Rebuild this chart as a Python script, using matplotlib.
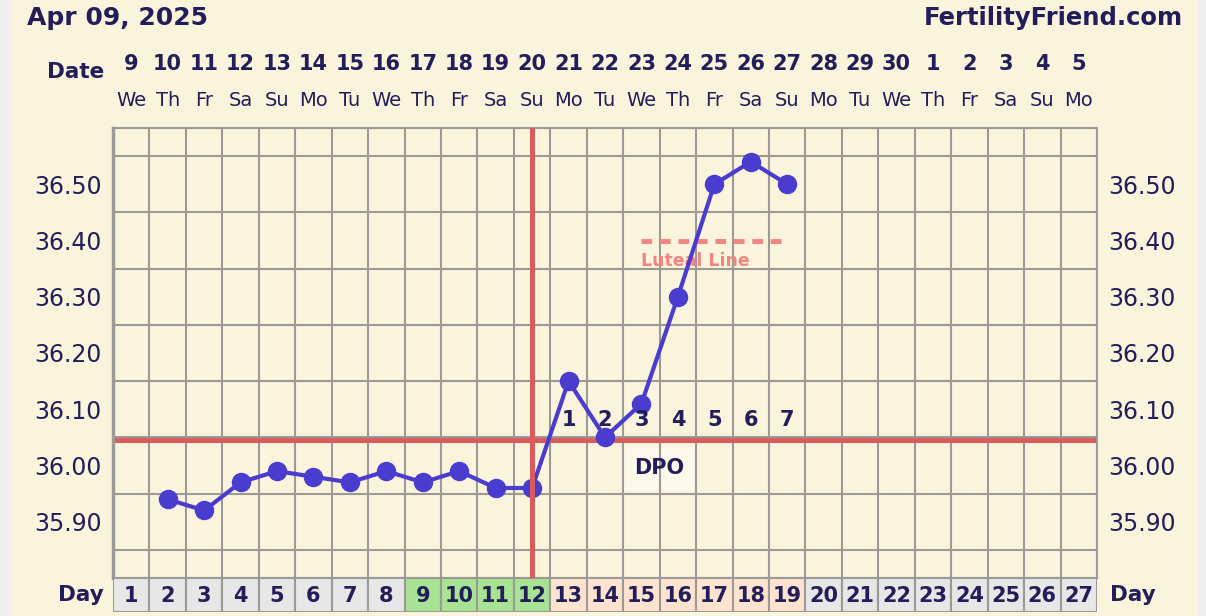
import matplotlib.pyplot as plt
import matplotlib.transforms as mtransforms
import numpy as np
from matplotlib.patches import Rectangle

# cycle data
days = list(range(1, 28))
dates = [9, 10, 11, 12, 13, 14, 15, 16, 17, 18, 19, 20, 21, 22, 23, 24, 25, 26, 27, 28, 29, 30, 1, 2, 3, 4, 5]
weekdays = ["We", "Th", "Fr", "Sa", "Su", "Mo", "Tu"] * 3 + ["We", "Th", "Fr", "Sa", "Su", "Mo"]
temp_days = [2, 3, 4, 5, 6, 7, 8, 9, 10, 11, 12, 13, 14, 15, 16, 17, 18, 19]
temps = [35.94, 35.92, 35.97, 35.99, 35.98, 35.97, 35.99, 35.97, 35.99, 35.96, 35.96,
         36.15, 36.05, 36.11, 36.30, 36.50, 36.54, 36.50]
coverline = 36.045
ovulation_day = 12
luteal_level = 36.40
luteal_span = (15, 19)
dpo_days = [13, 14, 15, 16, 17, 18, 19]
dpo_labels = ["1", "2", "3", "4", "5", "6", "7"]
fertile_days = [9, 10, 11, 12]
luteal_days = [13, 14, 15, 16, 17, 18, 19]
ytick_values = [35.90, 36.00, 36.10, 36.20, 36.30, 36.40, 36.50]

NAVY = "#231d5a"
CREAM = "#fbf4dc"
GRID = "#9b9a96"
RED = "#d95b5c"
BLUE = "#4a3ccf"
PINK = "#f28482"

W, H = 1206, 616
fig = plt.figure(figsize=(W / 100, H / 100), dpi=100)
fig.patch.set_facecolor("#f0f0f0")
fig.add_artist(Rectangle((12 / W, 0), (1198 - 12) / W, 1, transform=fig.transFigure,
                         facecolor=CREAM, edgecolor="none", zorder=-5))

ax = fig.add_axes([113 / W, (H - 578) / H, (1097 - 113) / W, (578 - 128) / H])
ax.set_facecolor(CREAM)
ax.set_xlim(0.5, 27.5)
ax.set_ylim(35.80, 36.60)

# grid
ax.set_xticks(np.arange(0.5, 27.6, 1.0), minor=True)
ax.set_xticks([])
ax.set_yticks(np.arange(35.80, 36.601, 0.05), minor=True)
ax.set_yticks(ytick_values)
ax.set_yticklabels([f"{v:.2f}" for v in ytick_values])
ax.grid(which="minor", color=GRID, linewidth=1.5, zorder=0)
ax.tick_params(which="both", length=0)
ax.tick_params(axis="y", labelsize=17, labelcolor=NAVY, labelright=True, pad=8)
for side, spine in ax.spines.items():
    spine.set_color(GRID)
    spine.set_linewidth(1.5)
ax.spines["left"].set_linewidth(2.5)

# DPO box
ax.add_patch(Rectangle((14.5, 35.955), 2.0, 0.078, facecolor="#fdf9ea", edgecolor="none", zorder=1))
ax.text(15.5, 35.995, "DPO", ha="center", va="center", fontsize=15, fontweight="bold",
        color=NAVY, zorder=2)

# coverline and data
ax.axhline(coverline, color=RED, linewidth=3.6, zorder=2)
ax.plot(temp_days, temps, color=BLUE, linewidth=3, marker="o", markersize=13, zorder=3)
ax.axvline(ovulation_day, color=RED, linewidth=3.6, zorder=4)

# luteal line
ax.plot(luteal_span, [luteal_level, luteal_level], color=PINK, linewidth=3.5,
        linestyle=(0, (2.2, 1.6)), zorder=2)
ax.text(luteal_span[0], luteal_level - 0.037, "Luteal Line", ha="left", va="center",
        fontsize=12.5, fontweight="bold", color=PINK, zorder=2)

for d, lab in zip(dpo_days, dpo_labels):
    ax.text(d, 36.08, lab, ha="center", va="center", fontsize=15, fontweight="bold",
            color=NAVY, zorder=5)

# day row
dax = fig.add_axes([113 / W, (H - 612) / H, (1097 - 113) / W, (612 - 578) / H])
dax.set_xlim(0.5, 27.5)
dax.set_ylim(0, 1)
cell_colors = []
for d in days:
    if d in fertile_days:
        cell_colors.append("#a8e293")
    elif d in luteal_days:
        cell_colors.append("#fee3cf")
    else:
        cell_colors.append("#e7e7e7")
dax.bar(days, 1, width=1.0, bottom=0, color=cell_colors, edgecolor=GRID, linewidth=1.5)
for d in days:
    dax.text(d, 0.47, str(d), ha="center", va="center", fontsize=15, fontweight="bold", color=NAVY)
dax.axis("off")

# header rows
blend = mtransforms.blended_transform_factory(ax.transData, fig.transFigure)
for d, num, wd in zip(days, dates, weekdays):
    ax.text(d, 1 - 64 / H, str(num), transform=blend, ha="center", va="center",
            fontsize=15, fontweight="bold", color=NAVY)
    ax.text(d, 1 - 100 / H, wd, transform=blend, ha="center", va="center",
            fontsize=14, color=NAVY)

fig.text(104 / W, 1 - 72 / H, "Date", ha="right", va="center", fontsize=15.5, fontweight="bold", color=NAVY)
fig.text(104 / W, 1 - 595 / H, "Day", ha="right", va="center", fontsize=15.5, fontweight="bold", color=NAVY)
fig.text(1110 / W, 1 - 595 / H, "Day", ha="left", va="center", fontsize=15.5, fontweight="bold", color=NAVY)
fig.text(27 / W, 1 - 18 / H, "Apr 09, 2025", ha="left", va="center", fontsize=18, fontweight="bold", color=NAVY)
fig.text(1183 / W, 1 - 18 / H, "FertilityFriend.com", ha="right", va="center", fontsize=17.5,
         fontweight="bold", color=NAVY)

fig.savefig("out.png", dpi=100, facecolor=fig.get_facecolor())
